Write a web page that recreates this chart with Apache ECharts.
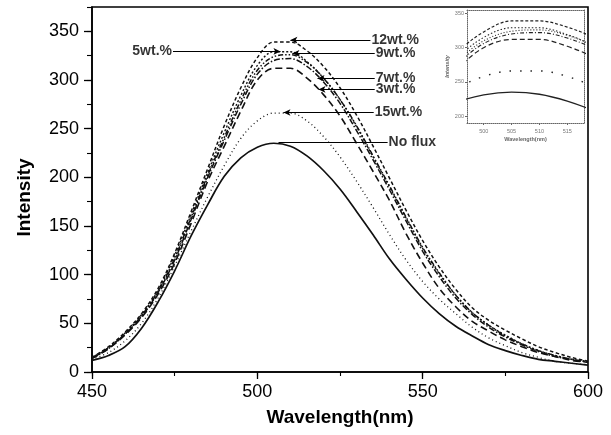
<!DOCTYPE html>
<html>
<head>
<meta charset="utf-8">
<script src="https://cdn.jsdelivr.net/npm/echarts@6/dist/echarts.min.js"></script>
<style>
html, body { margin: 0; padding: 0; background: #fff; }
#chart { width: 611px; height: 435px; }
</style>
</head>
<body>
<div id="chart"></div>
<script>
// Emission spectra, intensity vs wavelength (nm), sampled every 5 nm
const wavelength = [450,455,460,465,470,475,480,485,490,495,500,505,510,515,520,525,530,535,540,545,550,555,560,565,570,575,580,585,590,595,600];
const noFlux = [12,17,26,45,72,104,140,172,201,220,231,235,232,222,207,188,165,141,116,95,76,60,47,37,28,22,17,13,11,9,7];
const wt3    = [14,24,38,56,80,112,153,196,232,268,300,312,312,302,285,263,235,206,176,142,112,86,67,52,42,33,26,20,16,12,10];
const wt5    = [15,25,40,59,84,120,162,205,246,284,315,329,329,319,302,280,252,221,190,158,127,101,79,61,48,38,29,22,17,13,11];
const wt7    = [14,24,39,57,82,115,157,200,238,275,306,320,322,314,298,276,248,218,187,155,124,98,76,59,46,36,28,21,16,13,10];
const wt9    = [14,25,39,58,83,117,159,202,241,279,310,324,326,318,302,280,253,222,191,159,128,102,79,61,48,37,29,22,17,13,10];
const wt12   = [15,26,41,60,86,122,165,209,253,292,323,339,339,330,314,292,264,232,199,166,135,108,85,66,53,43,34,26,20,15,11];
const wt15   = [13,20,32,50,76,109,145,180,212,240,258,266,266,258,242,221,196,169,141,115,93,75,60,46,35,27,20,15,11,9,7.5];

const seriesNames = ['No flux', '15wt.%', '3wt.%', '7wt.%', '9wt.%', '5wt.%', '12wt.%'];
const seriesValues = [noFlux, wt15, wt3, wt7, wt9, wt5, wt12];

// Axis tick values
const mainXTicks = [450, 500, 550, 600];
const mainYTicks = [0, 50, 100, 150, 200, 250, 300, 350];
const insetXTicks = [500, 505, 510, 515];
const insetYTicks = [200, 250, 300, 350];

// Callout labels with arrows: text anchor (tail) and the point on the curve (tip)
const calloutText = ['12wt.%', '9wt.%', '5wt.%', '7wt.%', '3wt.%', '15wt.%', 'No flux'];
const calloutTail = [[534.2,341],[535.5,327.4],[474.5,329.4],[535.5,301.6],[535.5,290.3],[535.2,266.6],[539.4,235.7]];
const calloutTip  = [[510,341],[510.6,327.4],[507,329.4],[518.2,301.6],[518.5,290.3],[507.9,266.6],[506.4,235.7]];

const FONT = 'Arial, "Liberation Sans", sans-serif';

const lineStyles = {
  'No flux': { type: 'solid', width: 1.7 },
  '15wt.%':  { type: [1, 3], width: 1.3 },
  '3wt.%':   { type: [7, 4], width: 1.6 },
  '5wt.%':   { type: [2, 2], width: 1.4 },
  '7wt.%':   { type: [6, 2, 1.5, 2], width: 1.5 },
  '9wt.%':   { type: [5, 2, 1.5, 2, 1.5, 2], width: 1.5 },
  '12wt.%':  { type: [3.5, 2.5], width: 1.5 }
};
const insetStyles = {
  'No flux': { type: 'solid', width: 1.3 },
  '15wt.%':  { type: [1.5, 9], width: 1.4 },
  '3wt.%':   { type: [5, 3], width: 1.2 },
  '5wt.%':   { type: [1.5, 2], width: 1.1 },
  '7wt.%':   { type: [4, 2, 1, 2], width: 1.1 },
  '9wt.%':   { type: [1, 2], width: 1.1 },
  '12wt.%':  { type: [3, 2], width: 1.2 }
};

function pairs(ys) { return wavelength.map((w, i) => [w, ys[i]]); }

const series = [];
seriesNames.forEach((name, i) => {
  series.push({
    name: name, type: 'line', xAxisIndex: 0, yAxisIndex: 0,
    data: pairs(seriesValues[i]), smooth: 0.35, showSymbol: false,
    lineStyle: Object.assign({ color: '#111' }, lineStyles[name]),
    silent: true, animation: false, z: 3
  });
  series.push({
    name: name + ' (inset)', type: 'line', xAxisIndex: 2, yAxisIndex: 2,
    data: pairs(seriesValues[i]), smooth: 0.35, showSymbol: false,
    lineStyle: Object.assign({ color: '#222' }, insetStyles[name]),
    silent: true, animation: false, z: 3
  });
});

// Callout texts and arrows
series.push({
  type: 'scatter', xAxisIndex: 0, yAxisIndex: 0, symbolSize: 0, silent: true, animation: false,
  data: calloutText.map((t, i) => ({
    name: t, value: calloutTail[i],
    label: { position: t === '5wt.%' ? 'left' : 'right' }
  })),
  label: {
    show: true, formatter: '{b}', distance: 1,
    fontFamily: FONT, fontWeight: 'bold', fontSize: 14, color: '#000'
  },
  markLine: {
    silent: true, animation: false, precision: 2,
    symbol: ['none', 'arrow'], symbolSize: [5, 7],
    lineStyle: { color: '#000', width: 1, type: 'solid' },
    label: { show: false },
    emphasis: { disabled: true },
    data: calloutText.map((t, i) => [
      { coord: calloutTail[i] },
      t === 'No flux' ? { coord: calloutTip[i], symbol: 'none' } : { coord: calloutTip[i] }
    ])
  },
  z: 5
});

const option = {
  backgroundColor: '#fff',
  animation: false,
  textStyle: { fontFamily: FONT },
  grid: [
    { left: 92, right: 23, top: 7, bottom: 63, show: true, borderColor: '#000', borderWidth: 1.6, containLabel: false },
    { left: 467, width: 117, top: 10, height: 113, show: true, backgroundColor: '#fff', borderWidth: 0, containLabel: false }
  ],
  xAxis: [
    {
      gridIndex: 0, type: 'value', min: 450, max: 600, position: 'bottom',
      name: 'Wavelength(nm)', nameLocation: 'middle', nameGap: 36,
      nameTextStyle: { fontFamily: FONT, fontWeight: 'bold', fontSize: 19, color: '#000' },
      axisLine: { show: true, lineStyle: { color: '#000', width: 1.5 } },
      axisTick: { show: true, length: 7, customValues: mainXTicks, lineStyle: { color: '#000', width: 1.3 } },
      axisLabel: { customValues: mainXTicks, fontFamily: FONT, fontSize: 18, color: '#000', margin: 11 },
      splitLine: { show: false }
    },
    {
      gridIndex: 0, type: 'value', min: 450, max: 600, interval: 25, position: 'bottom',
      axisLine: { show: false },
      axisTick: { show: true, length: 4, lineStyle: { color: '#000', width: 1.1 } },
      axisLabel: { show: false }, splitLine: { show: false }
    },
    {
      gridIndex: 1, type: 'value', min: 497, max: 518, position: 'bottom',
      name: 'Wavelength(nm)', nameLocation: 'middle', nameGap: 13,
      nameTextStyle: { fontFamily: FONT, fontWeight: 'bold', fontSize: 5.5, color: '#666' },
      axisLine: { show: true, lineStyle: { color: '#666', width: 1, type: [1, 1] } },
      axisTick: { show: true, length: 2, customValues: insetXTicks, lineStyle: { color: '#666' } },
      axisLabel: { customValues: insetXTicks, fontFamily: FONT, fontSize: 5.5, color: '#777', margin: 5 },
      splitLine: { show: false }
    },
    {
      gridIndex: 1, type: 'value', min: 497, max: 518, position: 'top',
      axisLine: { show: true, lineStyle: { color: '#666', width: 1, type: [1, 1] } },
      axisTick: { show: false }, axisLabel: { show: false }, splitLine: { show: false }
    }
  ],
  yAxis: [
    {
      gridIndex: 0, type: 'value', min: 0, max: 375, position: 'left',
      name: 'Intensity', nameLocation: 'middle', nameGap: 58,
      nameTextStyle: { fontFamily: FONT, fontWeight: 'bold', fontSize: 19, color: '#000', padding: [0, 16, 0, 0] },
      axisLine: { show: true, lineStyle: { color: '#000', width: 1.5 } },
      axisTick: { show: true, length: 8, customValues: mainYTicks, lineStyle: { color: '#000', width: 1.3 } },
      axisLabel: { customValues: mainYTicks, fontFamily: FONT, fontSize: 18, color: '#000', margin: 13 },
      splitLine: { show: false }
    },
    {
      gridIndex: 0, type: 'value', min: 0, max: 375, interval: 25, position: 'left',
      axisLine: { show: false },
      axisTick: { show: true, length: 5, lineStyle: { color: '#000', width: 1.1 } },
      axisLabel: { show: false }, splitLine: { show: false }
    },
    {
      gridIndex: 1, type: 'value', min: 190, max: 355, position: 'left',
      name: 'Intensity', nameLocation: 'middle', nameGap: 15,
      nameTextStyle: { fontFamily: FONT, fontWeight: 'bold', fontStyle: 'italic', fontSize: 5.5, color: '#666' },
      axisLine: { show: true, lineStyle: { color: '#666', width: 1, type: [1, 1] } },
      axisTick: { show: true, length: 2, customValues: insetYTicks, lineStyle: { color: '#666' } },
      axisLabel: { customValues: insetYTicks, fontFamily: FONT, fontSize: 5.5, color: '#777', margin: 3 },
      splitLine: { show: false }
    },
    {
      gridIndex: 1, type: 'value', min: 190, max: 355, position: 'right',
      axisLine: { show: true, lineStyle: { color: '#666', width: 1, type: [1, 1] } },
      axisTick: { show: false }, axisLabel: { show: false }, splitLine: { show: false }
    }
  ],
  series: series
};

const chart = echarts.init(document.getElementById('chart'), null, { renderer: 'canvas' });
chart.setOption(option);
</script>
</body>
</html>
